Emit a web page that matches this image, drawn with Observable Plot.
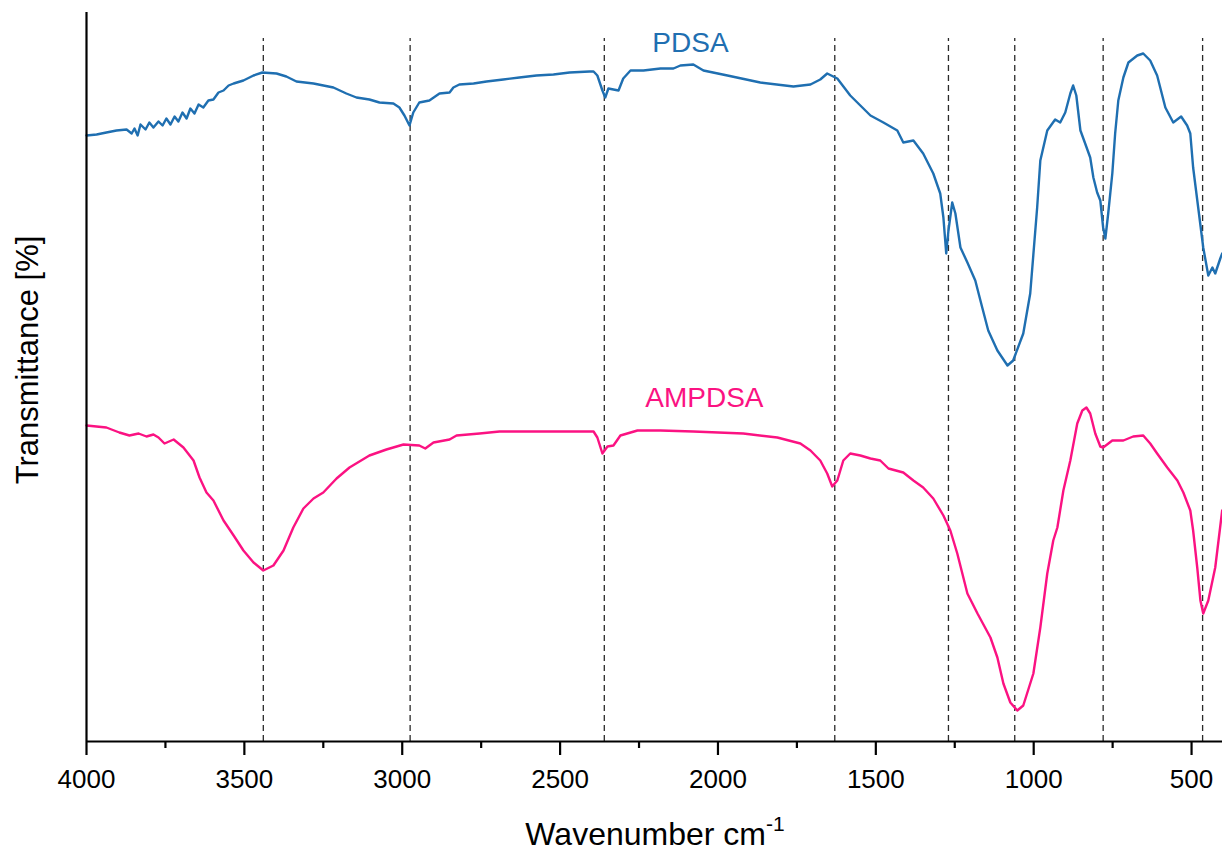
<!DOCTYPE html>
<html>
<head>
<meta charset="utf-8">
<script src="https://cdn.jsdelivr.net/npm/d3@7"></script>
<script src="https://cdn.jsdelivr.net/npm/@observablehq/plot@0.6"></script>
<style>
  html, body { margin: 0; padding: 0; background: #fff; }
  #chart { width: 1222px; height: 854px; }
</style>
</head>
<body>
<div id="chart"></div>
<script>
// Wavenumber (cm-1) and transmittance (arbitrary units, offset spectra)
const pdsaWn = [4000,3968,3937,3905,3873,3857,3848,3838,3829,3813,3801,3788,3772,3759,3747,3734,3721,3709,3696,3683,3671,3658,3645,3630,3614,3598,3582,3566,3550,3534,3503,3471,3443,3398,3367,3335,3281,3218,3177,3145,3104,3072,3028,3009,2993,2977,2965,2946,2914,2882,2850,2838,2819,2774,2733,2680,2629,2575,2521,2470,2407,2394,2382,2366,2357,2347,2331,2315,2300,2277,2236,2182,2141,2119,2078,2046,1970,1866,1761,1707,1676,1654,1622,1581,1549,1517,1476,1432,1413,1381,1350,1318,1296,1286,1277,1270,1258,1248,1232,1210,1185,1163,1144,1115,1083,1065,1033,1011,989,979,957,932,916,900,884,875,865,852,837,821,811,799,789,780,773,764,751,742,732,716,700,672,653,631,609,583,558,533,514,504,495,479,463,447,434,425,409,403];
const pdsaT  = [606,607,609,611,612,608,613,606,617,612,619,614,620,616,623,617,625,620,629,623,633,628,637,634,641,642,649,651,656,658,661,666,669,668,665,660,658,654,648,644,642,639,638,634,626,616,629,639,641,648,649,654,657,658,660,662,664,666,667,669,670,670,666,651,644,653,652,651,663,671,671,673,673,676,677,671,666,659,655,657,662,668,663,646,636,626,619,611,599,601,588,568,548,524,488,511,539,528,494,479,461,434,411,391,376,381,408,448,534,581,611,622,619,629,648,656,646,611,598,584,564,549,541,514,503,528,568,608,641,664,679,686,688,681,666,634,619,625,616,608,574,534,494,466,474,468,483,488];

const ampdsaWn = [4000,3937,3896,3864,3835,3810,3788,3772,3753,3724,3693,3661,3642,3620,3598,3566,3534,3503,3471,3440,3408,3376,3345,3313,3281,3250,3208,3167,3104,3050,2996,2946,2927,2901,2850,2828,2755,2692,2417,2394,2382,2366,2350,2331,2309,2255,2182,2078,1920,1812,1739,1707,1676,1654,1638,1622,1603,1581,1549,1517,1486,1460,1413,1381,1350,1318,1286,1264,1242,1210,1178,1137,1115,1096,1074,1052,1033,1001,979,957,938,925,906,884,862,846,833,821,805,789,780,751,716,685,653,631,609,577,545,526,504,495,482,472,463,447,425,403];
const ampdsaT  = [316,314,309,306,308,305,307,304,298,302,294,281,264,249,241,221,206,191,179,171,176,191,214,233,243,249,263,274,286,292,297,296,293,299,302,306,308,310,310,310,304,288,295,296,306,311,311,310,308,304,298,291,281,268,255,261,281,288,286,283,281,273,269,261,254,243,226,211,188,148,128,104,84,58,39,31,36,68,114,168,201,214,251,281,318,331,334,328,308,295,294,301,301,305,306,298,288,274,261,249,231,211,174,141,128,141,174,231];

const peaks = [3440, 2975, 2360, 1630, 1270, 1060, 780, 465];
const majorTicks = [4000, 3500, 3000, 2500, 2000, 1500, 1000, 500];
const minorTicks = [3750, 3250, 2750, 2250, 1750, 1250, 750];
const seriesNames = ["PDSA", "AMPDSA"];

const pdsa = pdsaWn.map((w, i) => ({wn: w, t: pdsaT[i]}));
const ampdsa = ampdsaWn.map((w, i) => ({wn: w, t: ampdsaT[i]}));

const blue = "#1f6fb1";
const pink = "#fb1282";
const font = "'Liberation Sans', Arial, sans-serif";

const chart = Plot.plot({
  width: 1222,
  height: 854,
  marginLeft: 86,
  marginRight: 0,
  marginTop: 12,
  marginBottom: 113,
  style: {fontFamily: font, background: "#fff", color: "#000"},
  x: {domain: [4000, 402]},
  y: {domain: [0, 729], axis: null},
  marks: [
    Plot.ruleX(peaks, {x: d => d, y1: 0, y2: 703, stroke: "#2a2a2a", strokeWidth: 1.3, strokeDasharray: "6,4"}),
    Plot.line(pdsa, {x: "wn", y: "t", stroke: blue, strokeWidth: 2.4}),
    Plot.line(ampdsa, {x: "wn", y: "t", stroke: pink, strokeWidth: 2.4}),
    Plot.ruleY([0], {stroke: "#000", strokeWidth: 2.2}),
    Plot.ruleX([4000], {stroke: "#000", strokeWidth: 2.2}),
    Plot.axisX({ticks: majorTicks, tickSize: 14, tickPadding: 14, tickFormat: d => String(d), fontSize: 26, strokeWidth: 2.2, stroke: "#000", fill: "#000", label: null}),
    Plot.axisX({ticks: minorTicks, tickSize: 7, tickFormat: () => "", strokeWidth: 2.2, stroke: "#000", label: null}),
    Plot.text([seriesNames[0]], {x: 2087, y: 698, text: d => d, fill: blue, fontSize: 28, textAnchor: "middle"}),
    Plot.text([seriesNames[1]], {x: 2043, y: 343, text: d => d, fill: pink, fontSize: 28, textAnchor: "middle"})
  ]
});

const svg = d3.select(chart);
const xl = svg.append("text")
  .attr("x", 655).attr("y", 845)
  .attr("text-anchor", "middle")
  .attr("font-family", font).attr("font-size", 32).attr("fill", "#000");
xl.append("tspan").text("Wavenumber cm");
xl.append("tspan").attr("dy", -14).attr("font-size", 21).text("-1");

svg.append("text")
  .attr("transform", "translate(38,360) rotate(-90)")
  .attr("text-anchor", "middle")
  .attr("font-family", font).attr("font-size", 31).attr("fill", "#000")
  .text("Transmittance [%]");

document.getElementById("chart").appendChild(chart);
</script>
</body>
</html>
